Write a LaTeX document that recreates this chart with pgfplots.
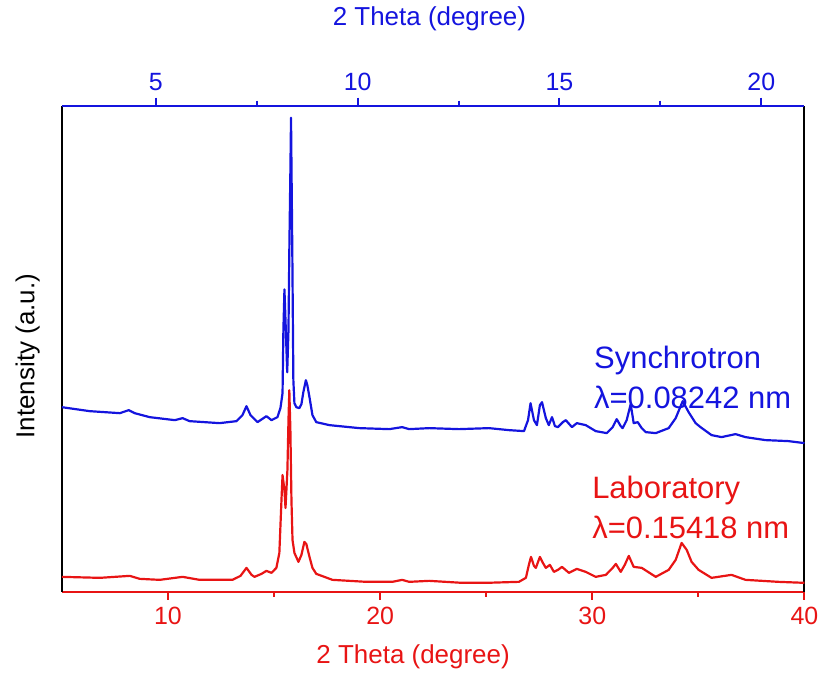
\documentclass[border=0pt]{standalone}
\usepackage{fontspec}
\setmainfont{Liberation Sans}
\usepackage{pgfplots}
\pgfplotsset{compat=1.18}
\definecolor{labred}{RGB}{232,20,20}
\definecolor{synblue}{RGB}{20,20,222}

\begin{document}
\begin{tikzpicture}
\begin{axis}[name=main, scale only axis, width=372pt, height=243.5pt,
  xmin=5, xmax=40, ymin=0, ymax=487,
  axis x line*=bottom, axis y line*=box,
  x axis line style={-, labred, line width=1pt},
  y axis line style={-, black, line width=1pt},
  ytick=\empty,
  xtick={10,20,30,40}, minor xtick={15,25,35},
  tick align=outside, major tick length=4pt, minor tick length=2.5pt,
  x tick style={labred, line width=1pt},
  x tick label style={labred, font=\fontsize{12.5}{14}\selectfont},
  /pgf/number format/assume math mode=true,
  xlabel={2 Theta (degree)},
  xlabel style={labred, font=\fontsize{13}{15}\selectfont, at={(axis description cs:0.473,-0.133)}, anchor=center},
  ylabel={Intensity (a.u.)},
  ylabel style={black, font=\fontsize{13}{15}\selectfont, at={(axis description cs:-0.046,0.485)}, anchor=center},
  clip=false,
]
% Synchrotron (lambda = 0.08242 nm)
\addplot[synblue, line width=1.1pt, line join=round] coordinates {
(5.00,185) (6.32,181) (7.73,179) (8.15,182) (8.43,179) (9.14,175) (10.32,172) (10.69,174)
(11.02,171) (12.43,169) (13.23,171) (13.51,177) (13.70,186) (13.89,177) (14.22,170) (14.50,174)
(14.64,176) (14.88,172) (15.16,175) (15.30,184) (15.40,199) (15.44,262) (15.49,303) (15.54,272)
(15.62,220) (15.68,262) (15.72,342) (15.77,422) (15.80,475) (15.86,342) (15.91,212) (15.96,189)
(16.05,185) (16.19,184) (16.29,188) (16.38,200) (16.50,212) (16.57,207) (16.67,195) (16.81,177)
(16.99,170) (17.61,167) (19.02,164) (20.43,163) (21.04,165) (21.37,163) (22.31,164) (23.72,163)
(25.13,164) (26.07,162) (26.78,161) (26.97,172) (27.09,189) (27.25,172) (27.39,167) (27.53,187)
(27.63,190) (27.81,174) (27.95,167) (28.10,175) (28.24,166) (28.38,165) (28.61,170) (28.75,172)
(29.04,165) (29.27,169) (29.69,167) (30.16,161) (30.68,159) (30.96,165) (31.15,173) (31.34,166)
(31.43,164) (31.62,172) (31.81,188) (31.95,169) (32.14,170) (32.33,164) (32.52,160) (32.99,159)
(33.60,164) (33.93,174) (34.26,191) (34.54,180) (34.87,169) (35.10,165) (35.62,157) (36.09,155)
(36.75,158) (37.22,155) (38.16,152) (39.24,151) (40.00,149)
};
% Laboratory (lambda = 0.15418 nm)
\addplot[labred, line width=1.1pt, line join=round] coordinates {
(5.00,15) (6.79,14) (8.20,16) (8.67,13) (9.61,12) (10.69,15) (11.49,12) (13.04,12)
(13.42,16) (13.70,24) (13.94,17) (14.08,15) (14.41,18) (14.64,21) (14.88,19) (15.11,24)
(15.25,39) (15.35,92) (15.40,117) (15.49,102) (15.54,84) (15.63,122) (15.68,172) (15.72,202)
(15.77,162) (15.82,92) (15.87,52) (15.96,39) (16.15,30) (16.29,37) (16.43,50) (16.52,48)
(16.67,35) (16.81,24) (16.99,18) (17.75,12) (19.35,10) (20.57,10) (21.04,12) (21.37,10)
(22.31,11) (23.86,9) (24.99,9) (26.54,10) (26.87,14) (27.01,27) (27.11,35) (27.25,26)
(27.34,24) (27.53,35) (27.67,29) (27.81,24) (28.00,27) (28.19,20) (28.38,22) (28.57,25)
(28.90,19) (29.27,23) (29.69,20) (30.16,15) (30.64,17) (30.96,24) (31.11,28) (31.34,20)
(31.53,27) (31.72,36) (31.95,25) (32.33,24) (32.99,15) (33.60,22) (33.93,32) (34.21,49)
(34.45,42) (34.68,30) (35.01,22) (35.62,14) (36.56,17) (37.22,12) (38.77,10) (40.00,9)
};
\node[anchor=west, align=left, inner sep=0pt, synblue, font=\fontsize{15.5}{20}\selectfont]
  at (axis cs:30.07,215) {Synchrotron\\λ=0.08242 nm};
\node[anchor=west, align=left, inner sep=0pt, labred, font=\fontsize{15.5}{20}\selectfont]
  at (axis cs:29.98,85) {Laboratory\\λ=0.15418 nm};
\end{axis}
\begin{axis}[scale only axis, width=372pt, height=243.5pt,
  at={(main.south west)}, anchor=south west,
  xmin=2.672, xmax=21.07, ymin=0, ymax=1,
  axis x line*=top, axis y line=none,
  x axis line style={-, synblue, line width=1pt},
  xtick={5,10,15,20}, minor xtick={7.5,12.5,17.5},
  tick align=outside, major tick length=4pt, minor tick length=2.5pt,
  x tick style={synblue, line width=1pt},
  x tick label style={synblue, font=\fontsize{12.5}{14}\selectfont},
  /pgf/number format/assume math mode=true,
  xlabel={2 Theta (degree)},
  xlabel style={synblue, font=\fontsize{13}{15}\selectfont, at={(axis description cs:0.495,1.179)}, anchor=center},
]
\end{axis}
\path ([xshift=-31pt,yshift=-42pt]main.south west) rectangle ([xshift=9.5pt,yshift=52.5pt]main.north east);
\end{tikzpicture}
\end{document}
